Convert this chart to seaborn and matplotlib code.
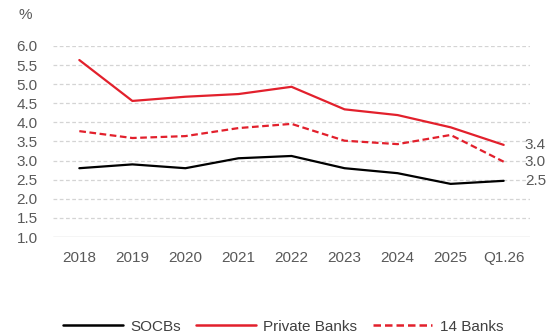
import pandas as pd
import numpy as np
import matplotlib
matplotlib.use('Agg')
import matplotlib.pyplot as plt
from matplotlib.lines import Line2D
import seaborn as sns

periods = ['2018', '2019', '2020', '2021', '2022', '2023', '2024', '2025', 'Q1.26']
socbs = [2.80, 2.90, 2.80, 3.06, 3.12, 2.80, 2.67, 2.39, 2.47]
private_banks = [5.63, 4.56, 4.67, 4.74, 4.93, 4.34, 4.19, 3.87, 3.41]
banks_14 = [3.77, 3.59, 3.64, 3.85, 3.96, 3.52, 3.43, 3.67, 2.97]
end_labels = ['2.5', '3.4', '3.0']

sns.set_theme(style='white')
plt.rcParams['font.family'] = ['Liberation Sans', 'DejaVu Sans']

df = pd.DataFrame({
    'period': periods * 3,
    'x': list(range(len(periods))) * 3,
    'value': socbs + private_banks + banks_14,
    'series': ['SOCBs'] * 9 + ['Private Banks'] * 9 + ['14 Banks'] * 9,
})

red = '#E2202C'
grey = '#595959'
palette = {'SOCBs': 'black', 'Private Banks': red, '14 Banks': red}
dashes = {'SOCBs': '', 'Private Banks': '', '14 Banks': (3, 1.6)}

fig = plt.figure(figsize=(5.5, 3.35), dpi=100)
ax = fig.add_axes([0.096, 0.2925, 0.868, 0.5705])

sns.lineplot(data=df, x='x', y='value', hue='series', style='series',
             palette=palette, dashes=dashes, linewidth=1.6, ax=ax, legend=False)

# gridlines
for y in np.arange(1.5, 6.01, 0.5):
    ax.axhline(y, color='#d4d4d4', lw=0.9, ls=(0, (3, 2)), zorder=0)
ax.axhline(1.0, color='#d0d0d0', lw=1.0, zorder=0)

ax.set_xlim(-0.5, 8.5)
ax.set_ylim(1.0, 6.0)
ticks = np.arange(1.0, 6.01, 0.5)
ax.set_yticks(ticks)
ax.set_yticklabels([f'{v:.1f}' for v in ticks])
ax.set_xticks(range(len(periods)))
ax.set_xticklabels(periods)
ax.tick_params(axis='both', length=0, labelsize=11, colors=grey)
ax.tick_params(axis='x', pad=10)
ax.tick_params(axis='y', pad=11)
ax.set_xlabel('')
ax.set_ylabel('')
for s in ax.spines.values():
    s.set_visible(False)

# end labels
last = len(periods) - 1
for val, lab in zip([socbs[last], private_banks[last], banks_14[last]], end_labels):
    ax.text(last + 0.4, val, lab, color=grey, fontsize=11,
            va='center', ha='left', clip_on=False)

fig.text(0.033, 0.955, '%', color=grey, fontsize=11, ha='left', va='center')

# legend
handles = [
    Line2D([], [], color='black', lw=1.8),
    Line2D([], [], color=red, lw=1.8),
    Line2D([], [], color=red, lw=1.8, ls=(0, (3, 1.6))),
]
fig.legend(handles, ['SOCBs', 'Private Banks', '14 Banks'], loc='center',
           bbox_to_anchor=(0.515, 0.025), ncol=3, frameon=False, fontsize=11,
           handlelength=3.9, columnspacing=1.0, handletextpad=0.5,
           labelcolor='#404040')

fig.savefig('out.png', dpi=100)
